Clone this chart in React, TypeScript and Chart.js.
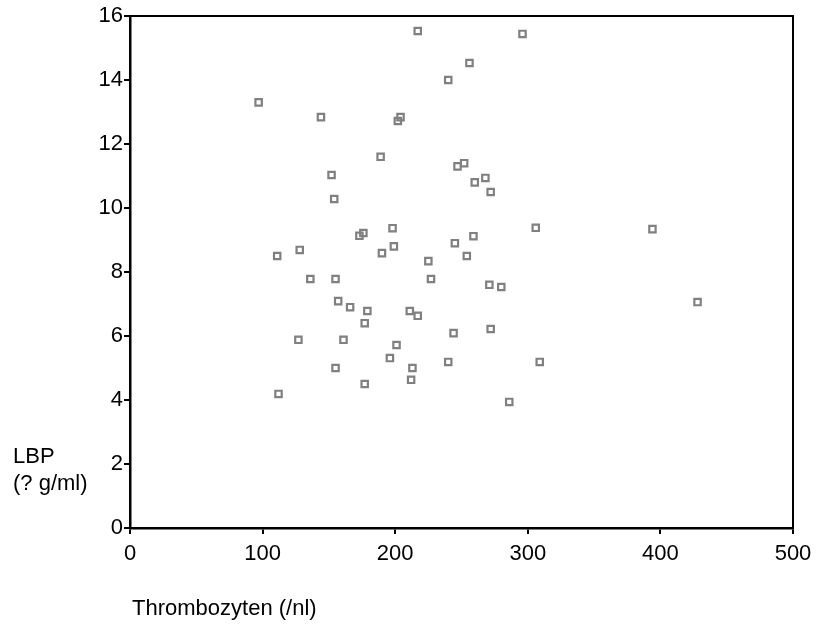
import React, { useEffect, useRef } from "react";
import { Chart, registerables } from "chart.js";

Chart.register(...registerables);

const thrombozyten = [97, 144, 202, 204, 217, 296, 256, 240, 189, 152, 154, 252, 247, 268, 260, 272, 306, 394, 428, 309, 286, 259, 245, 254, 225, 227, 271, 280, 211, 217, 244, 272, 240, 213, 212, 176, 173, 198, 199, 190, 111, 128, 136, 155, 157, 166, 179, 177, 127, 161, 201, 196, 155, 177, 112];
const lbp = [13.3, 12.84, 12.72, 12.84, 15.53, 15.44, 14.53, 14.0, 11.6, 11.03, 10.28, 11.4, 11.3, 10.94, 10.8, 10.5, 9.38, 9.34, 7.06, 5.19, 3.94, 9.12, 8.9, 8.5, 8.34, 7.78, 7.6, 7.53, 6.78, 6.63, 6.09, 6.22, 5.19, 5.0, 4.63, 9.22, 9.13, 9.37, 8.8, 8.59, 8.5, 8.69, 7.78, 7.78, 7.09, 6.9, 6.78, 6.4, 5.88, 5.88, 5.72, 5.31, 5.0, 4.5, 4.19];

const xTitle = "Thrombozyten (/nl)";
const yTitleLines = ["LBP", "(? g/ml)"];

const FONT = "'Liberation Sans', Arial, sans-serif";

export default function App() {
  const ref = useRef<HTMLCanvasElement>(null);
  useEffect(() => {
    const canvas = ref.current!;
    const frame = {
      id: "frame",
      afterDraw(chart: any) {
        const { ctx, chartArea } = chart;
        ctx.save();
        ctx.strokeStyle = "#000";
        ctx.lineWidth = 2;
        ctx.beginPath();
        ctx.moveTo(chartArea.left, chartArea.top);
        ctx.lineTo(chartArea.right, chartArea.top);
        ctx.lineTo(chartArea.right, chartArea.bottom);
        ctx.stroke();
        ctx.fillStyle = "#000";
        ctx.font = "22px " + FONT;
        ctx.textBaseline = "middle";
        ctx.textAlign = "left";
        ctx.fillText(yTitleLines[0], chartArea.left - 117, chartArea.bottom - 71);
        ctx.fillText(yTitleLines[1], chartArea.left - 117, chartArea.bottom - 44);
        ctx.fillText(xTitle, chartArea.left + 2, chartArea.bottom + 81);
        ctx.restore();
      },
    };
    const chart = new Chart(canvas, {
      type: "scatter",
      data: {
        datasets: [
          {
            data: thrombozyten.map((x, i) => ({ x, y: lbp[i] })),
            pointStyle: "rect",
            pointRadius: 4.5,
            pointHoverRadius: 4.5,
            borderColor: "#808080",
            backgroundColor: "rgba(255,255,255,0)",
            borderWidth: 2.2,
          },
        ],
      },
      options: {
        responsive: false,
        animation: false,
        layout: { padding: { top: 16, right: 27, left: 0, bottom: 0 } },
        plugins: { legend: { display: false }, tooltip: { enabled: false } },
        scales: {
          x: {
            type: "linear",
            min: 0,
            max: 500,
            afterFit: (s: any) => {
              s.height = 97;
            },
            ticks: { stepSize: 100, color: "#000", font: { size: 22, family: FONT }, padding: 7, maxRotation: 0 },
            grid: { drawOnChartArea: false, drawTicks: true, tickLength: 6, color: "#000", lineWidth: 2 },
            border: { display: true, color: "#000", width: 2.5 },
          },
          y: {
            min: 0,
            max: 16,
            afterFit: (s: any) => {
              s.width = 130;
            },
            ticks: { stepSize: 2, color: "#000", font: { size: 22, family: FONT }, padding: 1 },
            grid: { drawOnChartArea: false, drawTicks: true, tickLength: 6, color: "#000", lineWidth: 2 },
            border: { display: true, color: "#000", width: 2.5 },
          },
        },
      },
      plugins: [frame],
    });
    return () => chart.destroy();
  }, []);
  return (
    <div style={{ position: "fixed", left: 0, top: 0, width: 820, height: 625, background: "#fff" }}>
      <canvas ref={ref} width={820} height={625} />
    </div>
  );
}
